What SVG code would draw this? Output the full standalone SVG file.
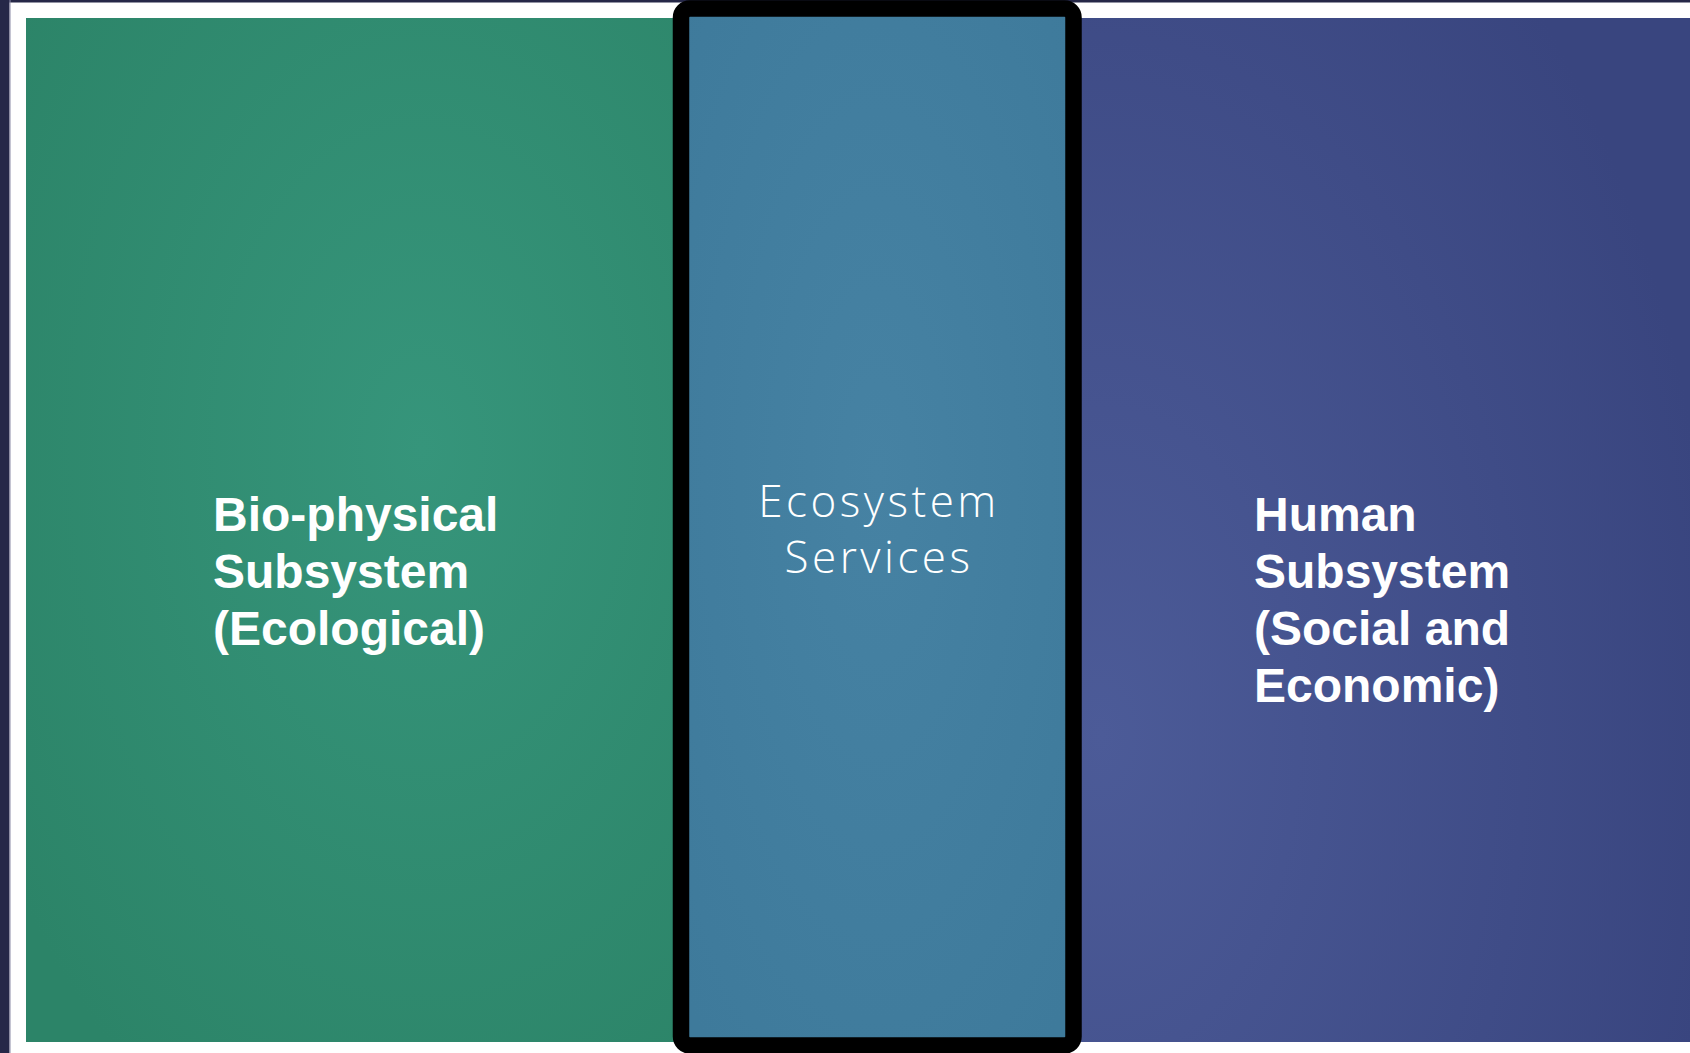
<svg xmlns="http://www.w3.org/2000/svg" width="1690" height="1053" viewBox="0 0 1690 1053">
  <defs>
    <radialGradient id="gGreen" cx="0.6" cy="0.42" r="0.75">
      <stop offset="0" stop-color="#36957B"/>
      <stop offset="1" stop-color="#2C8468"/>
    </radialGradient>
    <radialGradient id="gMid" cx="0.5" cy="0.45" r="0.7">
      <stop offset="0" stop-color="#4682A3"/>
      <stop offset="1" stop-color="#3E7A9B"/>
    </radialGradient>
    <radialGradient id="gBlue" cx="0.05" cy="0.7" r="1.0">
      <stop offset="0" stop-color="#4C5B98"/>
      <stop offset="1" stop-color="#39457F"/>
    </radialGradient>
    <style>
      .bold { font-family: "Liberation Sans", Arial, sans-serif; font-weight: bold; font-size: 48px; fill: #FFFFFF; }
      .light { font-family: "Open Sans", "Liberation Sans", sans-serif; font-weight: 300; font-size: 44px; letter-spacing: 3.5px; fill: #FFFFFF; }
    </style>
  </defs>

  <rect x="0" y="0" width="1690" height="1053" fill="#FFFFFF"/>
  <rect x="0" y="0" width="1690" height="2.5" fill="#262848"/>
  <rect x="0" y="0" width="9.5" height="1053" fill="#262848"/>
  <rect x="9.5" y="0" width="1" height="1053" fill="#8A8AA6"/>

  <g id="biophysical">
    <rect x="26" y="18" width="660" height="1024" fill="url(#gGreen)"/>
    <text class="bold" x="213"><tspan x="213" y="531">Bio-physical</tspan><tspan x="213" y="588">Subsystem</tspan><tspan x="213" y="645">(Ecological)</tspan></text>
  </g>

  <g id="human">
    <rect x="1070" y="18" width="620" height="1024" fill="url(#gBlue)"/>
    <text class="bold" x="1254"><tspan x="1254" y="531">Human</tspan><tspan x="1254" y="588">Subsystem</tspan><tspan x="1254" y="645">(Social and</tspan><tspan x="1254" y="702">Economic)</tspan></text>
  </g>

  <g id="ecosystem-services">
    <rect x="681" y="8.5" width="392.5" height="1037" rx="9" fill="url(#gMid)" stroke="#000000" stroke-width="16.5"/>
    <text class="light" text-anchor="middle" x="879"><tspan x="879" y="517">Ecosystem</tspan><tspan x="879" y="573">Services</tspan></text>
  </g>
</svg>
